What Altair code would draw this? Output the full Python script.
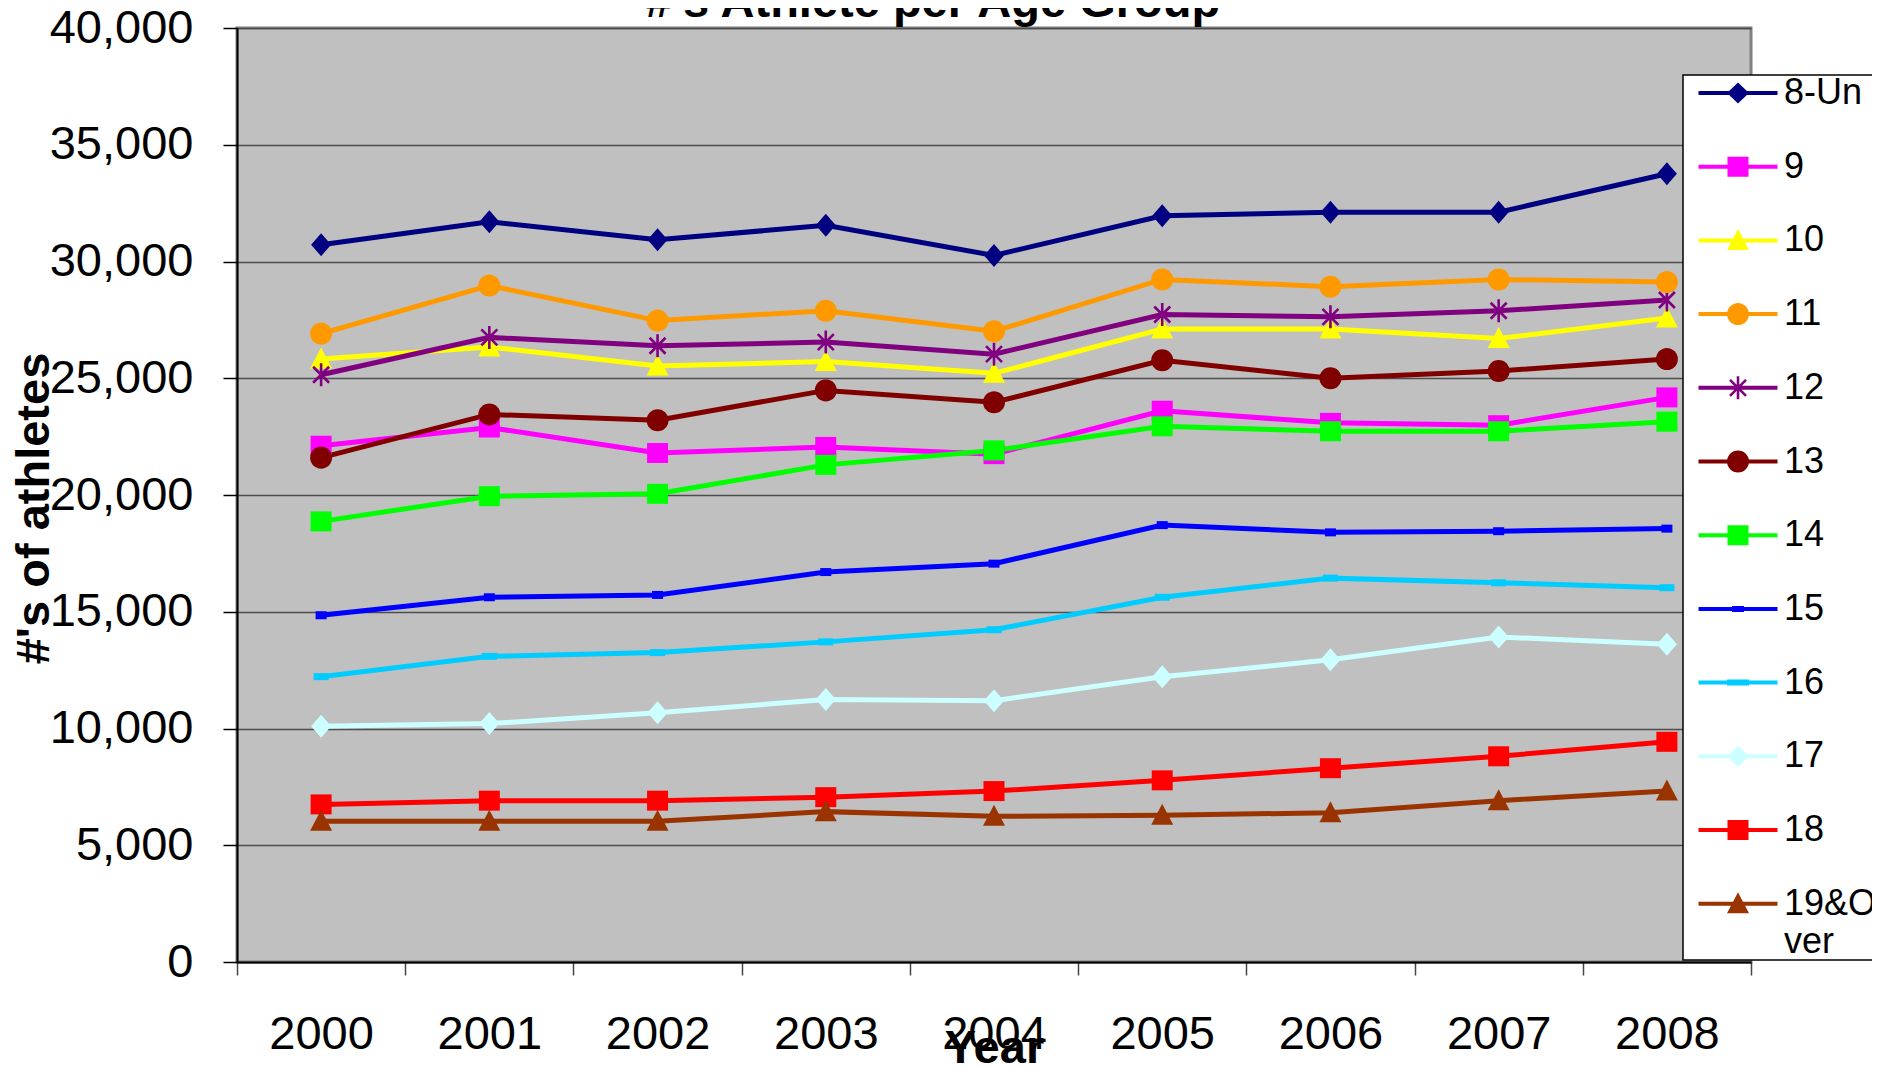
import math
import altair as alt
import pandas as pd

# ---------------- data ----------------
years = ["2000", "2001", "2002", "2003", "2004", "2005", "2006", "2007", "2008"]
groups = ["8-Un", "9", "10", "11", "12", "13", "14", "15", "16", "17", "18", "19&Over"]
colors = ["#000080", "#FF00FF", "#FFFF00", "#FF9900", "#800080", "#800000",
          "#00FF00", "#0000FF", "#00CCFF", "#CCFFFF", "#FF0000", "#993300"]

v_8un = [30720, 31700, 30930, 31550, 30260, 31960, 32110, 32110, 33760]
v_9 = [22110, 22890, 21800, 22060, 21750, 23610, 23090, 22990, 24180]
v_10 = [25820, 26340, 25520, 25720, 25210, 27110, 27110, 26700, 27580]
v_11 = [26910, 28970, 27470, 27890, 27010, 29230, 28920, 29230, 29120]
v_12 = [25150, 26750, 26390, 26550, 26030, 27730, 27630, 27890, 28350]
v_13 = [21600, 23450, 23200, 24480, 23970, 25770, 25000, 25310, 25820]
v_14 = [18870, 19950, 20050, 21290, 21910, 22940, 22730, 22730, 23140]
v_15 = [14850, 15620, 15720, 16700, 17060, 18710, 18400, 18450, 18560]
v_16 = [12220, 13090, 13250, 13710, 14230, 15620, 16440, 16240, 16030]
v_17 = [10100, 10210, 10670, 11240, 11190, 12220, 12940, 13920, 13610]
v_18 = [6750, 6910, 6910, 7060, 7320, 7780, 8300, 8810, 9430]
v_19 = [6030, 6030, 6030, 6440, 6240, 6290, 6390, 6910, 7320]

series = [v_8un, v_9, v_10, v_11, v_12, v_13, v_14, v_15, v_16, v_17, v_18, v_19]

rows = []
for g, vals in zip(groups, series):
    for yr, v in zip(years, vals):
        rows.append({"Year": yr, "Group": g, "Value": v})
df = pd.DataFrame(rows)

# ---------------- marker shapes (unit paths) ----------------
def poly(pts):
    area = sum(x1 * y2 - x2 * y1 for (x1, y1), (x2, y2) in zip(pts, pts[1:] + pts[:1]))
    if area < 0:
        pts = pts[::-1]
    return "M" + "L".join(f"{x:.3f},{y:.3f}" for x, y in pts) + "Z"

def rect(hw, hh):
    return poly([(-hw, -hh), (hw, -hh), (hw, hh), (-hw, hh)])

def bar(x1, y1, x2, y2, t):
    dx, dy = x2 - x1, y2 - y1
    L = math.hypot(dx, dy)
    nx, ny = -dy / L * t, dx / L * t
    return poly([(x1 + nx, y1 + ny), (x2 + nx, y2 + ny), (x2 - nx, y2 - ny), (x1 - nx, y1 - ny)])

def ellipse(rx, ry, n=32):
    return poly([(rx * math.cos(2 * math.pi * i / n), ry * math.sin(2 * math.pi * i / n)) for i in range(n)])

diamond = poly([(0, -1.15), (1.0, 0), (0, 1.15), (-1.0, 0)])
square = rect(1.05, 1.0)
tri = poly([(0, -1.15), (1.1, 0.95), (-1.1, 0.95)])
circ = ellipse(1.1, 1.1)
star = bar(0, -1.15, 0, 1.15, 0.13) + bar(-0.8, -0.8, 0.8, 0.8, 0.13) + bar(0.8, -0.8, -0.8, 0.8, 0.13)
dash15 = rect(0.55, 0.4)
dash16 = rect(0.75, 0.35)

# marker type -> groups drawn with it (in drawing order)
marker_groups = [
    (diamond, ["8-Un", "17"]),
    (square, ["9", "14", "18"]),
    (tri, ["10", "19&Over"]),
    (star, ["12"]),
    (circ, ["11", "13"]),
    (dash15, ["15"]),
    (dash16, ["16"]),
]

lg_diamond = poly([(0, -1.05), (1.1, 0), (0, 1.05), (-1.1, 0)])
lg_markers = [lg_diamond, square, tri, circ, star, circ, square, rect(0.6, 0.3), rect(1.1, 0.3),
              lg_diamond, square, tri]
lg_line = rect(3.95, 0.2)
legend_paths = [lg_line + m for m in lg_markers]

# ---------------- chart ----------------
FONT = "Liberation Sans"
W, H_PLOT = 1514, 934
PAD_L, PAD_T, PAD_R, PAD_B = 229, 20, 121, 130

x_enc = alt.X(
    "Year:O",
    sort=years,
    bandPosition=0.5,
    scale=alt.Scale(type="band", paddingInner=0, paddingOuter=0),
    axis=alt.Axis(
        title="Year", titleFont=FONT, titleFontSize=47, titleFontWeight="bold", titleColor="black",
        titleX=757, titleY=100, titleAlign="center", titleBaseline="alphabetic",
        labelAngle=0, labelFont=FONT, labelFontSize=47, labelColor="black",
        labelPadding=36.5, labelBaseline="top",
        tickBand="extent", tickSize=13, tickColor="#444444", tickWidth=1.5,
        domainColor="black", domainWidth=2, grid=False,
    ),
)
y_enc = alt.Y(
    "Value:Q",
    scale=alt.Scale(domain=[0, 40000], nice=False),
    axis=alt.Axis(
        title="#'s of athletes", titleFont=FONT, titleFontSize=47, titleFontWeight="bold",
        titleColor="black", titleX=-189, titleY=480, titleAngle=270, titleAlign="center",
        titleBaseline="alphabetic",
        values=[0, 5000, 10000, 15000, 20000, 25000, 30000, 35000, 40000], format=",d",
        labelFont=FONT, labelFontSize=47, labelColor="black", labelPadding=30,
        tickSize=14, tickColor="black", tickWidth=1.5,
        domainColor="black", domainWidth=2,
        grid=True, gridColor="#4d4d4d", gridWidth=1.5,
    ),
)

color_scale = alt.Scale(domain=groups, range=colors)

legend = alt.Legend(
    orient="none", legendX=1446, legendY=47, title=None,
    padding=0, fillColor="white", strokeColor="black",
    labelFont=FONT, labelFontSize=36, labelColor="black", labelLimit=500,
    symbolSize=400, symbolOffset=37, labelOffset=28, rowPadding=37.7,
    symbolOpacity=1, symbolStrokeWidth=0,
    labelExpr="datum.label == '19&Over' ? ['19&O    ', 'ver'] : datum.label",
)

color_enc = alt.Color("Group:N", scale=color_scale, sort=groups, legend=legend)

lines = alt.Chart(df).mark_line(strokeWidth=5).encode(x=x_enc, y=y_enc, color=color_enc)

point_layers = []
for path, grp in marker_groups:
    point_layers.append(
        alt.Chart(df).transform_filter(alt.FieldOneOfPredicate(field="Group", oneOf=grp))
        .mark_point(filled=True, shape=path, size=400, opacity=1, strokeWidth=0)
        .encode(x=x_enc, y=y_enc, color=color_enc)
    )

legend_layer = alt.Chart(df).transform_filter("false").mark_point(
    filled=True, size=400, opacity=1, strokeWidth=0
).encode(
    x=x_enc, y=y_enc,
    color=color_enc,
    shape=alt.Shape("Group:N", scale=alt.Scale(domain=groups, range=legend_paths), sort=groups,
                    legend=legend),
)

chart = alt.layer(lines, *point_layers, legend_layer).properties(
    width=W, height=H_PLOT,
    title=alt.TitleParams(
        "#'s Athlete per Age Group", font=FONT, fontSize=47, fontWeight="bold", color="black",
        anchor="middle", frame="group", dx=-61, dy=60, baseline="alphabetic", offset=0,
    ),
    padding={"left": PAD_L, "top": PAD_T, "right": PAD_R, "bottom": PAD_B},
    autosize="none",
    background="white",
).configure_view(fill="#C0C0C0", stroke="#808080", strokeWidth=3
).configure_legend(strokeWidth=1.5)

chart.save("out.html", embed_options={"renderer": "svg", "actions": False})
